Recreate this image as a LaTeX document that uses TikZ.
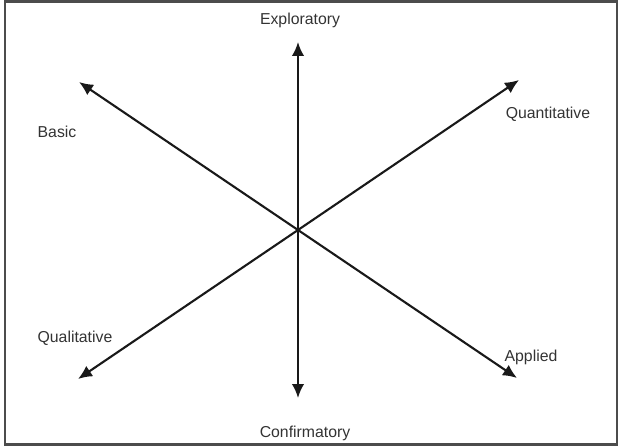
\documentclass[tikz,border=0pt]{standalone}
\usepackage{fontspec}
\setmainfont{Liberation Sans}
\usetikzlibrary{arrows.meta}
\tikzset{
  axislabel/.style={font=\fontsize{9}{10}\selectfont,text=black!80,inner sep=1pt},
  axisline/.style={{Latex[length=2.8mm,width=2.5mm]}-{Latex[length=2.8mm,width=2.5mm]},line width=1.2pt,black!90},
  frame/.style={draw=black!70,line width=1.4pt},
}

\begin{document}
\begin{tikzpicture}[x=0.02cm,y=-0.02cm]
    \useasboundingbox (0,0) rectangle (628,446);
    \draw[frame] (5,1.5) rectangle (617,444.5);
    \coordinate (mid) at (298,230);
    % arrow ends
    \coordinate (top) at (298,42);
    \coordinate (bot) at (298,398);
    \coordinate (nw) at (79,82);
    \coordinate (se) at (517,378);
    \coordinate (ne) at (519,80);
    \coordinate (sw) at (78,379);
    \foreach \a/\b in {top/bot,nw/se,ne/sw}{
      \draw[axisline] (\a)--(mid)--(\b);
    }
    % labels
    \node[axislabel] (expl) at (300,20) {Exploratory};
    \node[axislabel] (conf) at (305,433) {Confirmatory};
    \node[axislabel] (basic) at (57,132) {Basic};
    \node[axislabel] (quant) at (548,114) {Quantitative};
    \node[axislabel] (qual) at (75,338) {Qualitative};
    \node[axislabel] (appl) at (531,357) {Applied};
  \end{tikzpicture}
\end{document}
